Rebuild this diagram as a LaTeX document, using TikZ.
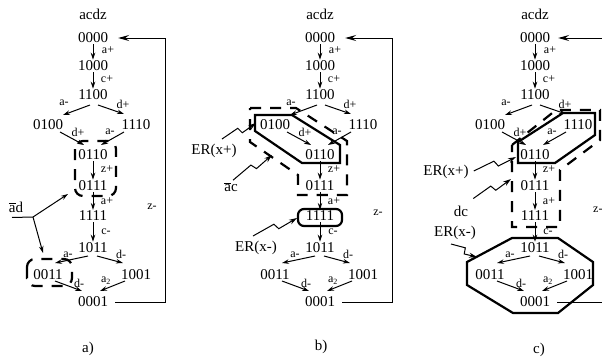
\documentclass[tikz,border=0pt]{standalone}
\usepackage{fontspec}
\setmainfont{Liberation Serif}
\usetikzlibrary{arrows.meta,calc}
\tikzset{
 st/.style={font=\fontsize{15}{15}\selectfont, inner sep=1pt},
 lb/.style={font=\fontsize{12}{12}\selectfont, inner sep=0pt},
 arr/.style={-{Stealth[length=7pt,width=4.5pt]}, line width=1pt},
 ret/.style={-{Stealth[length=11pt,width=6pt,inset=4pt]}, line width=1pt},
 retl/.style={line width=1pt},
 dreg/.style={line width=2.2pt, dash pattern=on 11pt off 9pt},
 sreg/.style={line width=2.2pt, line join=miter},
 zz/.style={-{Stealth[length=8pt,width=5pt]}, line width=1pt},
}
\newcommand\zzarrow[2]{\draw[zz] (#1) -- ($(#1)!0.5!(#2)!3pt!90:(#2)$) -- ($(#1)!0.56!(#2)!3pt!-90:(#2)$) -- (#2);}
\newcommand\stgraph[2]{%
\begin{scope}[xshift=#2pt]
\node[st] (#1acdz) at (0,14) {acdz};
\node[st] (#1s0000) at (0,38) {0000};
\node[st] (#1s1000) at (0,66) {1000};
\node[st] (#1s1100) at (0,95) {1100};
\node[st] (#1s0100) at (-45,125) {0100};
\node[st] (#1s1110) at (43,125) {1110};
\node[st] (#1s0110) at (0,155) {0110};
\node[st] (#1s0111) at (0,186) {0111};
\node[st] (#1s1111) at (0,216) {1111};
\node[st] (#1s1011) at (0,248) {1011};
\node[st] (#1s0011) at (-45,275) {0011};
\node[st] (#1s1001) at (43,275) {1001};
\node[st] (#1s0001) at (0,302) {0001};
\draw[arr] (#1s0000) -- (#1s1000);
\draw[arr] (#1s1000) -- (#1s1100);
\draw[arr] ([shift={(-3,10)}]#1s1100.center) -- ([shift={(15,-10)}]#1s0100.center);
\draw[arr] ([shift={(5,10)}]#1s1100.center) -- ([shift={(-12,-11)}]#1s1110.center);
\draw[arr] ([shift={(12,7)}]#1s0100.center) -- ([shift={(-9,-10)}]#1s0110.center);
\draw[arr] ([shift={(-12,7)}]#1s1110.center) -- ([shift={(8,-10)}]#1s0110.center);
\draw[arr] (#1s0110) -- (#1s0111);
\draw[arr] (#1s0111) -- (#1s1111);
\draw[arr] (#1s1111) -- (#1s1011);
\draw[arr] ([shift={(-5,8)}]#1s1011.center) -- ([shift={(7,-12)}]#1s0011.center);
\draw[arr] ([shift={(4,8)}]#1s1011.center) -- ([shift={(-13,-12)}]#1s1001.center);
\draw[arr] ([shift={(7,6)}]#1s0011.center) -- ([shift={(-11,-11)}]#1s0001.center);
\draw[arr] ([shift={(-11,6)}]#1s1001.center) -- ([shift={(7,-11)}]#1s0001.center);
\node[lb] (#1l1) at (15,50) {a+};
\node[lb] (#1l2) at (14,79) {c+};
\node[lb] (#1l3) at (-29,103) {a-};
\node[lb] (#1l4) at (30,104) {d+};
\node[lb] (#1l5) at (-15,132) {d+};
\node[lb] (#1l6) at (17,132) {a-};
\node[lb] (#1l7) at (14,169) {z+};
\node[lb] (#1l8) at (14,201) {a+};
\node[lb] (#1l9) at (13,232) {c-};
\node[lb] (#1l10) at (-25,255) {a-};
\node[lb] (#1l11) at (28,254) {d-};
\node[lb] (#1l12) at (-14,283) {d-};
\node[lb] (#1l13) at (13,281) {a\textsubscript{2}};
\end{scope}}
\begin{document}
\begin{tikzpicture}[x=1pt,y=-1pt]
\useasboundingbox (0,0) rectangle (602,357);
\clip (0,0) rectangle (602,357);
% ---------- a)
\stgraph{a}{93}
\coordinate (aR) at (165,0);
\draw[retl, shorten <=6pt] (as0001.east) -- (as0001.east -| aR) -- (as0000.east -| aR);
\draw[ret, shorten >=9pt] (as0000.east -| aR) -- (as0000.east);
\node[lb] (az) at (152,207) {z-};
\node[st] (acap) at (88,349) {a)};
\draw[dreg, rounded corners=8pt] (75,141) rectangle (116,196);
\draw[dreg, rounded corners=8pt] (27,259) rectangle (72,286);
\node[st] (aad) at (16,207) {$\overline{\mbox{a}}$d};
\coordinate (aj) at (33,217);
\coordinate (aE1) at (68,194);
\coordinate (aE2) at (43,253);
\draw[line width=1pt] ([shift={(-4,4)}]aad.south) -- (aj);
\draw[arr] (aj) -- (aE1);
\draw[arr] (aj) -- (aE2);
% ---------- b)
\stgraph{b}{320}
\coordinate (bR) at (392,0);
\draw[retl, shorten <=6pt] (bs0001.east) -- (bs0001.east -| bR) -- (bs0000.east -| bR);
\draw[ret, shorten >=9pt] (bs0000.east -| bR) -- (bs0000.east);
\node[lb] (bz) at (378,213) {z-};
\node[st] (bcap) at (321,347) {b)};
\draw[sreg] (255,115) -- (292,115) -- (340,145) -- (340,163) -- (302,163) -- (255,131) -- cycle;
\draw[dreg] (250,108) -- (296,108) -- (347,141) -- (347,195) -- (298,195) -- (298,175) -- (250,142) -- cycle;
\draw[sreg, rounded corners=6pt] (298,209) rectangle (342,226);
\node[st] (bERp) at (214,151) {ER(x+)};
\node[st] (bac) at (231,187) {$\overline{\mbox{a}}$c};
\node[st] (bERm) at (256,248) {ER(x-)};
\coordinate (bS1) at ([shift={(8,-4)}]bERp.north);
\coordinate (bE1) at (256,123);
\coordinate (bS2) at ([shift={(2,-1)}]bac.north);
\coordinate (bE2) at (272,155);
\coordinate (bS3) at ([shift={(-3,-4)}]bERm.north);
\coordinate (bE3) at (297,218);
\zzarrow{bS1}{bE1}
\zzarrow{bS2}{bE2}
\zzarrow{bS3}{bE3}
% ---------- c)
\stgraph{c}{535}
\coordinate (cR) at (602,0);
\draw[ret, shorten >=7pt] (cs0000.east -| cR) -- (cs0000.east);
\draw[retl, shorten <=6pt] (cs0001.east) -- (cs0001.east -| cR);
\node[lb, anchor=west] (cz) at (593,210) {z-};
\node[st] (ccap) at (539,350) {c)};
\draw[sreg] (563,113) -- (595,113) -- (595,135) -- (555,163) -- (518,163) -- (518,142) -- cycle;
\draw[dreg] (512,145) -- (556,110) -- (600,110) -- (600,140) -- (560,170) -- (560,227) -- (512,227) -- cycle;
\draw[sreg] (512,238) -- (558,238) -- (593,262) -- (593,285) -- (558,313) -- (513,313) -- (467,285) -- (467,262) -- cycle;
\node[st] (cERp) at (446,172) {ER(x+)};
\node[st] (cdc) at (461,211) {dc};
\node[st] (cERm) at (455,233) {ER(x-)};
\coordinate (cS1) at ([shift={(4,-1)}]cERp.east);
\coordinate (cE1) at (516,157);
\coordinate (cS2) at ([shift={(4,-6)}]cdc.north east);
\coordinate (cE2) at (511,179);
\coordinate (cS3) at ([shift={(-4,3)}]cERm.south);
\coordinate (cE3) at (477,257);
\zzarrow{cS1}{cE1}
\zzarrow{cS2}{cE2}
\zzarrow{cS3}{cE3}
\end{tikzpicture}
\end{document}
